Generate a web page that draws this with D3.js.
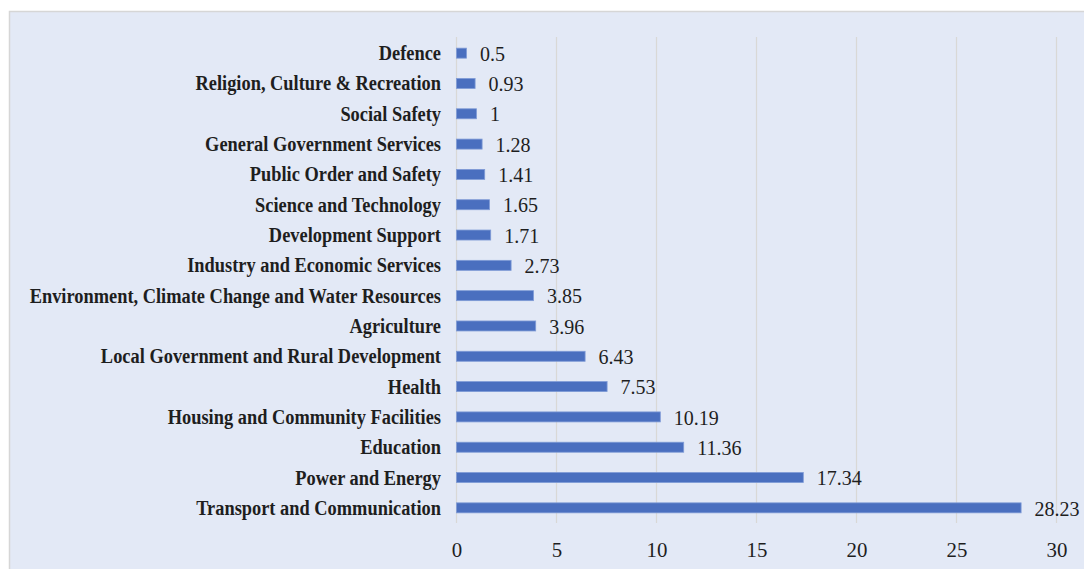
<!DOCTYPE html>
<html>
<head>
<meta charset="utf-8">
<script src="https://cdn.jsdelivr.net/npm/d3@7"></script>
<style>
  html, body { margin: 0; padding: 0; background: #ffffff; }
  svg { display: block; }
</style>
</head>
<body>
<div id="chart"></div>
<script>
const categories = [
  "Defence",
  "Religion, Culture & Recreation",
  "Social Safety",
  "General Government Services",
  "Public Order and Safety",
  "Science and Technology",
  "Development Support",
  "Industry and Economic  Services",
  "Environment, Climate Change and Water Resources",
  "Agriculture",
  "Local Government and Rural Development",
  "Health",
  "Housing and Community Facilities",
  "Education",
  "Power and Energy",
  "Transport and Communication"
];
const values = [0.5, 0.93, 1, 1.28, 1.41, 1.65, 1.71, 2.73, 3.85, 3.96, 6.43, 7.53, 10.19, 11.36, 17.34, 28.23];
const valueLabels = ["0.5", "0.93", "1", "1.28", "1.41", "1.65", "1.71", "2.73", "3.85", "3.96", "6.43", "7.53", "10.19", "11.36", "17.34", "28.23"];
const xTicks = [0, 5, 10, 15, 20, 25, 30];

const W = 1084, H = 569;
const svg = d3.select("#chart").append("svg").attr("width", W).attr("height", H);

// panel
svg.append("rect").attr("x", 9.5).attr("y", 11.5).attr("width", W).attr("height", H)
  .attr("fill", "#e3e9f6").attr("stroke", "#d6d6d6").attr("stroke-width", 1.5);

const x = d3.scaleLinear().domain([0, 30]).range([456, 1056]);
const y = d3.scaleBand().domain(categories).range([38, 523]).paddingInner(0.67).paddingOuter(0.335);

const serif = "'Liberation Serif', 'Times New Roman', serif";

// gridlines
svg.append("g").selectAll("line").data(xTicks).join("line")
  .attr("x1", d => x(d) + 0.5).attr("x2", d => x(d) + 0.5)
  .attr("y1", 37).attr("y2", 523)
  .attr("stroke", "#d9d8d6").attr("stroke-width", 1.2);

// bars
svg.append("g").selectAll("rect").data(values).join("rect")
  .attr("x", x(0) + 0.5)
  .attr("y", (d, i) => y(categories[i]))
  .attr("width", d => x(d) - x(0))
  .attr("height", y.bandwidth())
  .attr("fill", "#4a6fbf")
  .attr("stroke", "#7f9bd6").attr("stroke-width", 0.8);

// value labels
svg.append("g").selectAll("text").data(values).join("text")
  .attr("transform", (d, i) => `translate(${x(d) + 14},${y(categories[i]) + y.bandwidth() / 2}) scale(0.91,1)`)
  .attr("dy", "0.35em")
  .attr("font-family", serif).attr("font-size", 22).attr("fill", "#1e1e1e")
  .text((d, i) => valueLabels[i]);

// category labels (y axis)
const yAxis = d3.axisLeft(y).tickSize(0).tickPadding(0);
const yg = svg.append("g").attr("transform", `translate(441,0)`).call(yAxis);
yg.select(".domain").remove();
yg.selectAll("text")
  .attr("x", 0).attr("dy", "0.35em")
  .attr("transform", "scale(0.92,1)")
  .attr("font-family", serif).attr("font-size", 20).attr("font-weight", "bold")
  .attr("fill", "#1e1e1e");

// x axis
const xAxis = d3.axisBottom(x).tickValues(xTicks).tickSize(0).tickPadding(0).tickFormat(d3.format("d"));
const xg = svg.append("g").attr("transform", `translate(0.5,549)`).call(xAxis);
xg.select(".domain").remove();
xg.selectAll("text")
  .attr("y", 0).attr("dy", "0.35em")
  .attr("transform", "scale(0.95,1)")
  .attr("font-family", serif).attr("font-size", 22).attr("fill", "#1e1e1e");
</script>
</body>
</html>
